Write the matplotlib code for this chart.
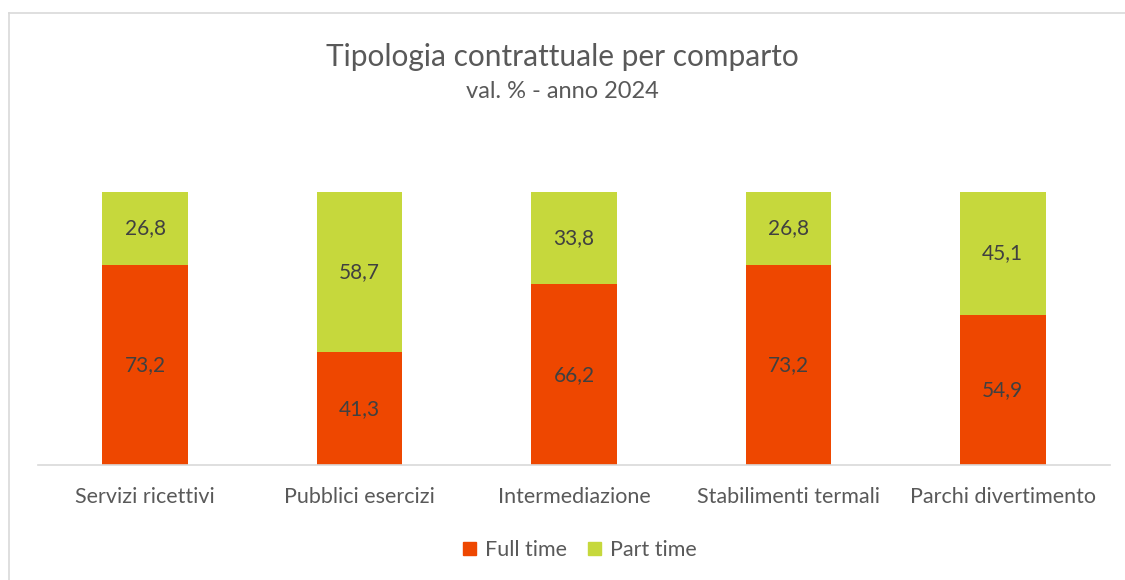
import matplotlib
matplotlib.use("Agg")
import matplotlib.pyplot as plt
from matplotlib.lines import Line2D
from matplotlib.patches import Patch

categories = ["Servizi ricettivi", "Pubblici esercizi", "Intermediazione",
              "Stabilimenti termali", "Parchi divertimento"]
full_time = [73.2, 41.3, 66.2, 73.2, 54.9]
part_time = [26.8, 58.7, 33.8, 26.8, 45.1]
series_names = ["Full time", "Part time"]

c_full = "#EE4700"
c_part = "#C6D83C"
txt = "#595959"
lbl = "#404040"
plt.rcParams['font.family'] = ['Lato', 'DejaVu Sans']

W, H = 1125, 580
fig = plt.figure(figsize=(W / 100, H / 100), dpi=100)
ax = fig.add_axes([38 / W, 1 - 465 / H, (1110 - 38) / W, (465 - 192) / H])

x = list(range(len(categories)))
bw = 0.40
ax.bar(x, full_time, bw, color=c_full, label=series_names[0])
ax.bar(x, part_time, bw, bottom=full_time, color=c_part, label=series_names[1])

for i in x:
    ax.text(i, full_time[i] / 2, f"{full_time[i]:.1f}".replace(".", ","),
            ha="center", va="center", fontsize=15, color=lbl)
    ax.text(i, full_time[i] + part_time[i] / 2, f"{part_time[i]:.1f}".replace(".", ","),
            ha="center", va="center", fontsize=15, color=lbl)

ax.set_xlim(-0.5, 4.5)
ax.set_ylim(0, 100)
ax.set_yticks([])
ax.set_xticks(x)
ax.set_xticklabels(categories, fontsize=15.5, color=txt)
ax.tick_params(axis="x", length=0, pad=16)
for s in ["top", "right", "left"]:
    ax.spines[s].set_visible(False)
ax.spines["bottom"].set_color("#D9D9D9")
ax.spines["bottom"].set_linewidth(1.2)

fig.text(0.5, 1 - 57 / H, "Tipologia contrattuale per comparto", ha="center", va="center",
         fontsize=21.5, color=txt)
fig.text(0.5, 1 - 92 / H, "val. % - anno 2024", ha="center", va="center",
         fontsize=17, color=txt)

handles = [Patch(color=c_full), Patch(color=c_part)]
fig.legend(handles, series_names, loc="center", bbox_to_anchor=(580 / W, 1 - 550 / H),
           ncol=2, frameon=False, fontsize=15.5, labelcolor=txt,
           handlelength=0.6, handleheight=0.6, handletextpad=0.4, columnspacing=1.0)

fig.add_artist(Line2D([9 / W, 1.0], [1 - 13 / H, 1 - 13 / H], color="#D9D9D9", lw=1.2))
fig.add_artist(Line2D([9 / W, 9 / W], [1 - 13 / H, 0], color="#D9D9D9", lw=1.2))

fig.savefig("out.png", dpi=100, facecolor="white")
